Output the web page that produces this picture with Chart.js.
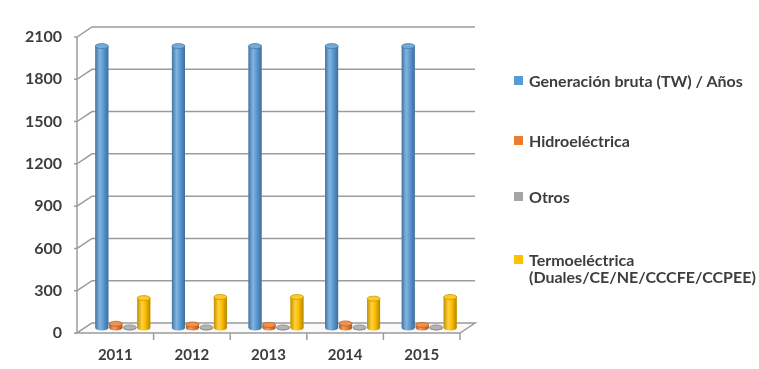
<!DOCTYPE html>
<html>
<head>
<meta charset="utf-8">
<script src="https://cdn.jsdelivr.net/npm/chart.js@4/dist/chart.umd.min.js"></script>
<style>
  body { margin: 0; background: #fff; }
  #wrap { position: relative; width: 759px; height: 369px; }
  #legend { position: absolute; left: 514px; top: 0; font-family: Lato, sans-serif; font-weight: 700; font-size: 16px; color: #3d3d3d; }
  .item { position: absolute; left: 0; white-space: nowrap; line-height: 17px; }
  .item span.box { position: absolute; left: 0; top: 4px; width: 9px; height: 9px; }
  .item span.txt { display: block; margin-left: 15px; }
</style>
</head>
<body>
<div id="wrap">
  <canvas id="myChart" width="759" height="369"></canvas>
  <div id="legend"></div>
</div>
<script>
// years on the x axis
const categories = ['2011', '2012', '2013', '2014', '2015']
// series
const generacion = [2000, 2000, 2000, 2000, 2000]
const hidro = [30, 25, 22, 32, 22]
const otros = [4, 4, 4, 4, 4]
const termo = [212, 220, 220, 208, 220]
const seriesNames = ['Generación bruta (TW) / Años', 'Hidroeléctrica', 'Otros', 'Termoeléctrica\n(Duales/CE/NE/CCCFE/CCPEE)']
const colors = ['#5B9BD5', '#ED7D31', '#A5A5A5', '#FFC000']
const yTicks = [0, 300, 600, 900, 1200, 1500, 1800, 2100]

const depthX = 15, depthY = -10
const lineColor = '#9c9c9c'

function shade(hex, f) {
    let n = parseInt(hex.slice(1), 16)
    let r = (n >> 16) & 255, g = (n >> 8) & 255, b = n & 255
    const t = f < 0 ? 0 : 255
    const p = Math.abs(f)
    r = Math.round((t - r) * p + r); g = Math.round((t - g) * p + g); b = Math.round((t - b) * p + b)
    return 'rgb(' + r + ',' + g + ',' + b + ')'
}

// back wall, side wall and floor like the 3D excel chart
const walls = {
    id: 'walls',
    beforeDatasetsDraw(chart) {
        const ctx = chart.ctx
        const a = chart.chartArea
        const y = chart.scales.y
        ctx.save()
        ctx.strokeStyle = lineColor
        ctx.lineWidth = 1.5
        yTicks.forEach(v => {
            const py = y.getPixelForValue(v)
            ctx.beginPath()
            ctx.moveTo(a.left - 3, py)
            ctx.lineTo(a.left, py)
            ctx.lineTo(a.left + depthX, py + depthY)
            if (v > 0) ctx.lineTo(a.right + depthX, py + depthY)
            ctx.stroke()
        })
        // floor
        const b = y.getPixelForValue(0)
        ctx.beginPath()
        ctx.moveTo(a.left, b)
        ctx.lineTo(a.right, b)
        ctx.lineTo(a.right + depthX, b + depthY)
        ctx.lineTo(a.left + depthX, b + depthY)
        ctx.closePath()
        ctx.fillStyle = '#fafafa'
        ctx.fill()
        ctx.stroke()
        // front left axis
        ctx.beginPath()
        ctx.moveTo(a.left, y.getPixelForValue(2100))
        ctx.lineTo(a.left, b)
        ctx.stroke()
        // category ticks under the floor
        const x = chart.scales.x
        for (let i = 1; i <= categories.length; i++) {
            const xx = i === categories.length ? a.right : (x.getPixelForTick(i - 1) + x.getPixelForTick(i)) / 2
            ctx.beginPath()
            ctx.moveTo(xx, b)
            ctx.lineTo(xx, b + 7)
            ctx.stroke()
        }
        ctx.restore()
        // bars stand in the middle of the depth
        ctx.save()
        ctx.translate(depthX / 2, depthY / 2)
    },
    afterDatasetsDraw(chart) {
        const ctx = chart.ctx
        chart.data.datasets.forEach((ds, di) => {
            const meta = chart.getDatasetMeta(di)
            meta.data.forEach(bar => {
                const w = bar.width, l = bar.x - w / 2
                const top = bar.y, base = bar.base
                const g = ctx.createLinearGradient(l, 0, l + w, 0)
                g.addColorStop(0, shade(colors[di], -0.25))
                g.addColorStop(0.35, shade(colors[di], 0.25))
                g.addColorStop(0.6, colors[di])
                g.addColorStop(1, shade(colors[di], -0.3))
                ctx.fillStyle = g
                ctx.fillRect(l, top, w, base - top)
                ctx.beginPath()
                ctx.ellipse(bar.x, base, w / 2, 2.5, 0, 0, Math.PI)
                ctx.fill()
                ctx.beginPath()
                ctx.ellipse(bar.x, top, w / 2, 2.5, 0, 0, Math.PI * 2)
                ctx.fillStyle = shade(colors[di], 0.15)
                ctx.fill()
                ctx.strokeStyle = shade(colors[di], -0.2)
                ctx.lineWidth = 0.8
                ctx.stroke()
            })
        })
        ctx.restore()
    }
}

function drawChart() {
    const ctx = document.getElementById('myChart').getContext('2d')
    const series = [generacion, hidro, otros, termo]

    let datasets = []
    series.forEach((values, i) => {
        datasets.push({
            label: seriesNames[i],
            data: values,
            backgroundColor: colors[i],
            borderWidth: 0,
            categoryPercentage: 0.73,
            barPercentage: 0.93
        })
    })

    new Chart(ctx, {
        type: 'bar',
        data: { labels: categories, datasets: datasets },
        plugins: [walls],
        options: {
            responsive: false,
            animation: false,
            layout: { padding: { top: 37, right: 299, left: 0, bottom: 0 } },
            plugins: { legend: { display: false }, tooltip: { enabled: false } },
            scales: {
                x: {
                    grid: { display: false, drawTicks: false },
                    border: { display: false },
                    ticks: { color: '#3d3d3d', font: { family: 'Lato', size: 15, weight: 'bold' }, padding: 13 },
                    afterFit: s => { s.height = 36 }
                },
                y: {
                    min: 0,
                    max: 2100,
                    afterBuildTicks: s => { s.ticks = yTicks.map(v => ({ value: v })) },
                    grid: { display: false, drawTicks: false },
                    border: { display: false },
                    ticks: { color: '#3d3d3d', font: { family: 'Lato', size: 16, weight: 'bold' }, padding: 15, callback: v => String(v) },
                    afterFit: s => { s.width = 77 }
                }
            }
        }
    })

    // legend as html, the last label has two lines
    const tops = [72, 132, 188, 251]
    const legend = document.getElementById('legend')
    seriesNames.forEach((name, i) => {
        const d = document.createElement('div')
        d.className = 'item'
        d.style.top = tops[i] + 'px'
        d.innerHTML = '<span class="box" style="background:' + colors[i] + '"></span><span class="txt">' + name.replace('\n', '<br>') + '</span>'
        legend.appendChild(d)
    })
}

window.onload = () => {
    drawChart()
}
</script>
</body>
</html>
